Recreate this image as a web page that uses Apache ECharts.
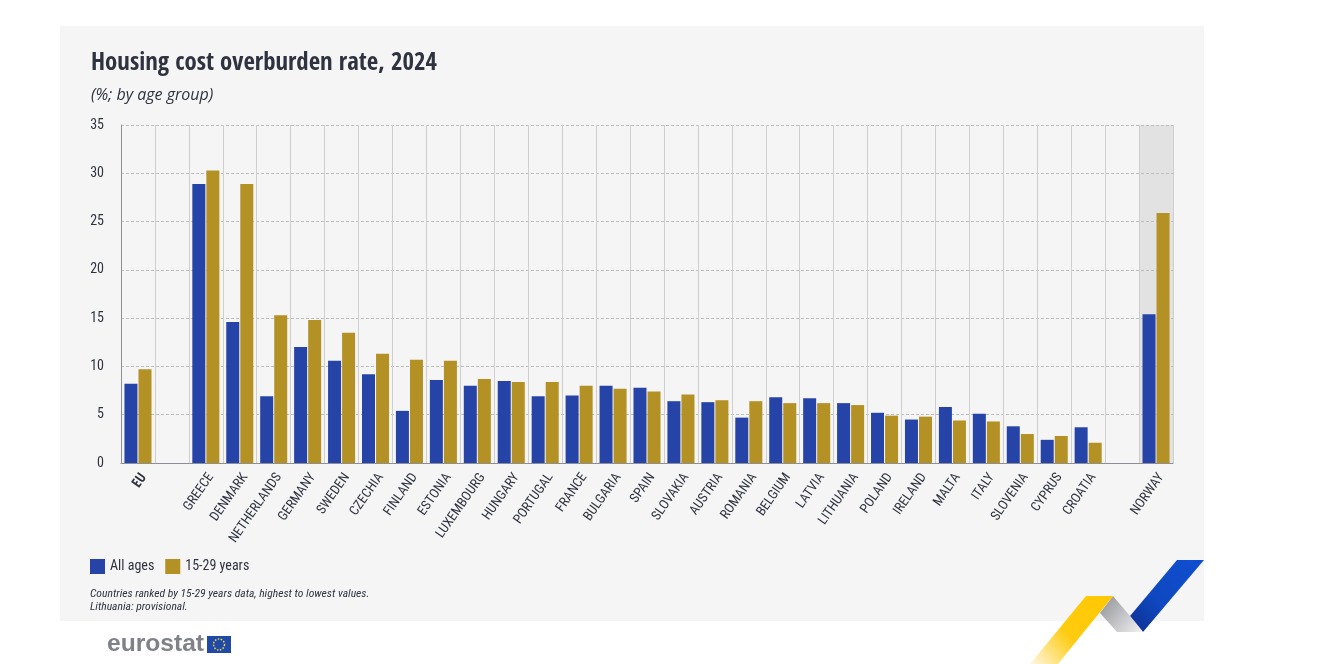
<!DOCTYPE html>
<html><head><meta charset="utf-8">
<style>html,body{margin:0;padding:0;background:#fff}#c{width:1325px;height:664px}</style>
<script src="https://cdn.jsdelivr.net/npm/echarts@6/dist/echarts.min.js"></script>
</head><body><div id="c"></div>
<script>
const categories=['EU','','GREECE','DENMARK','NETHERLANDS','GERMANY','SWEDEN','CZECHIA','FINLAND','ESTONIA','LUXEMBOURG','HUNGARY','PORTUGAL','FRANCE','BULGARIA','SPAIN','SLOVAKIA','AUSTRIA','ROMANIA','BELGIUM','LATVIA','LITHUANIA','POLAND','IRELAND','MALTA','ITALY','SLOVENIA','CYPRUS','CROATIA',' ','NORWAY'];
const allAges=[8.2,null,28.9,14.6,6.9,12.0,10.6,9.2,5.4,8.6,8.0,8.5,6.9,7.0,8.0,7.8,6.4,6.3,4.7,6.8,6.7,6.2,5.2,4.5,5.8,5.1,3.8,2.4,3.7,null,15.4];
const youth=[9.7,null,30.3,28.9,15.3,14.8,13.5,11.3,10.7,10.6,8.7,8.4,8.4,8.0,7.7,7.4,7.1,6.5,6.4,6.2,6.2,6.0,4.9,4.8,4.4,4.3,3.0,2.8,2.1,null,25.9];
const yTicks={min:0,max:35,interval:5};
const titleText='Housing cost overburden rate, 2024';
const subtitleText='(%; by age group)';
const noteText='Countries ranked by 15-29 years data, highest to lowest values.\nLithuania: provisional.';
const NARROW='"Roboto Condensed","Liberation Sans",sans-serif';
const BOLD='"Open Sans Condensed","Roboto Condensed",sans-serif';
const INK='#2f3340';
const chart=echarts.init(document.getElementById('c'),null,{renderer:'canvas'});
chart.setOption({
 animation:false,
 backgroundColor:'#fff',
 title:[
  {text:titleText,left:86,top:46,textStyle:{fontFamily:BOLD,fontSize:24.8,fontWeight:'bold',color:INK}},
  {text:subtitleText,left:86,top:82,textStyle:{fontFamily:'"Open Sans",sans-serif',fontSize:16,fontStyle:'italic',fontWeight:'normal',color:INK}},
  {text:noteText,left:85,top:583,textStyle:{fontFamily:NARROW,fontSize:11.6,fontStyle:'italic',fontWeight:'normal',color:INK,lineHeight:13}}
 ],
 legend:{left:85,top:554,itemWidth:15,itemHeight:15,itemGap:11,icon:'rect',
  textStyle:{fontFamily:NARROW,fontSize:14,color:INK,padding:[3,0,0,0]}},
 grid:{left:121,top:125,width:1052,height:338,containLabel:false},
 xAxis:{type:'category',data:categories,
  axisLine:{lineStyle:{color:'#8d8f94',width:1}},axisTick:{show:false},
  splitLine:{show:true,interval:0,lineStyle:{color:'#cfcfcf',width:1}},
  axisLabel:{interval:0,rotate:55,margin:8,verticalAlign:'top',fontFamily:NARROW,fontSize:13.4,color:INK,
   formatter:v=>v==='EU'?'{b|EU}':v,rich:{b:{fontWeight:'bold',fontFamily:BOLD,fontSize:14,color:INK}}}},
 yAxis:{type:'value',min:yTicks.min,max:yTicks.max,interval:yTicks.interval,
  axisLine:{show:true,lineStyle:{color:'#8d8f94',width:1}},axisTick:{show:false},
  splitLine:{lineStyle:{color:'#bdbdbd',type:[3,2],width:1}},
  axisLabel:{margin:17,fontFamily:NARROW,fontSize:14,color:INK}},
 series:[
  {name:'All ages',type:'bar',data:allAges,barWidth:13,barGap:'8%',itemStyle:{color:'#2644a7'},
   markArea:{silent:true,z:-1,itemStyle:{color:'#e2e2e2'},data:[[{xAxis:'NORWAY'},{xAxis:'NORWAY'}]]}},
  {name:'15-29 years',type:'bar',data:youth,barWidth:13,itemStyle:{color:'#b39124'}}
 ],
 graphic:{elements:[
  {type:'rect',z:-10,silent:true,shape:{x:60,y:26,width:1144,height:595},style:{fill:'#f5f5f5'}},
  {type:'polygon',z:5,silent:true,shape:{points:[[1177,560],[1204,560],[1143,632],[1130,616]]},
   style:{fill:{type:'linear',x:1,y:0,x2:0,y2:1,colorStops:[{offset:0,color:'#0f4fd0'},{offset:0.6,color:'#0f48c0'},{offset:1,color:'#0f2f8f'}]}}},
  {type:'polygon',z:5,silent:true,shape:{points:[[1113,596],[1130,616],[1143,632],[1117,632],[1100,613]]},
   style:{fill:{type:'linear',x:0,y:0,x2:1,y2:1,colorStops:[{offset:0,color:'#8f9095'},{offset:1,color:'#f2f2f4'}]}}},
  {type:'polygon',z:5,silent:true,shape:{points:[[1086,596],[1113,596],[1058,664],[1030,664]]},
   style:{fill:{type:'linear',x:1,y:0,x2:0,y2:1,colorStops:[{offset:0,color:'#ffc800'},{offset:0.55,color:'#ffcb10'},{offset:1,color:'#fff8e6'}]}}},
  {type:'text',silent:true,left:107,top:632,style:{text:'eurostat',fill:'#7f8287',font:'bold 24.6px "Liberation Sans",sans-serif'}},
  {type:'rect',silent:true,shape:{x:207,y:636,width:24,height:17},style:{fill:'#1f4aa8'}},
  {type:'circle',silent:true,shape:{cx:219,cy:644.5,r:5.5},style:{fill:'none',stroke:'#f5d33a',lineWidth:1.5,lineDash:[1.5,1.5]}}
 ]}
});
</script></body></html>
